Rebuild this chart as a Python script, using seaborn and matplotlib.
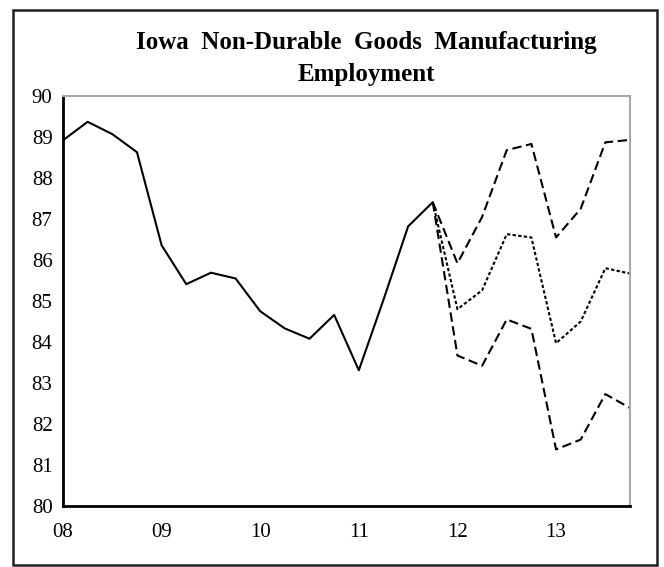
import numpy as np
import pandas as pd
import matplotlib
matplotlib.use('Agg')
import matplotlib.pyplot as plt
import matplotlib.ticker as mticker
import seaborn as sns

# quarterly index, 2008Q1 .. 2011Q4 (history)
hist_x = [2008.0, 2008.25, 2008.5, 2008.75, 2009.0, 2009.25, 2009.5, 2009.75,
          2010.0, 2010.25, 2010.5, 2010.75, 2011.0, 2011.25, 2011.5, 2011.75]
hist_y = [88.92, 89.37, 89.07, 88.63, 86.36, 85.41, 85.69, 85.55,
          84.75, 84.33, 84.08, 84.66, 83.31, 85.03, 86.82, 87.41]

# forecast, starting from the last actual quarter
fc_x = [2011.75, 2012.0, 2012.25, 2012.5, 2012.75, 2013.0, 2013.25, 2013.5, 2013.75]
fc_high = [87.41, 85.92, 87.05, 88.68, 88.83, 86.55, 87.25, 88.87, 88.93]
fc_mid = [87.41, 84.80, 85.26, 86.63, 86.55, 83.97, 84.50, 85.80, 85.67]
fc_low = [87.41, 83.67, 83.42, 84.55, 84.32, 81.38, 81.62, 82.73, 82.39]

title = 'Iowa  Non-Durable  Goods  Manufacturing\nEmployment'

df = pd.concat([
    pd.DataFrame({'quarter': hist_x, 'jobs': hist_y, 'series': 'actual'}),
    pd.DataFrame({'quarter': fc_x, 'jobs': fc_high, 'series': 'high'}),
    pd.DataFrame({'quarter': fc_x, 'jobs': fc_mid, 'series': 'mid'}),
    pd.DataFrame({'quarter': fc_x, 'jobs': fc_low, 'series': 'low'}),
])

sns.set_style('white')
plt.rcParams['font.family'] = ['Liberation Serif', 'DejaVu Serif']

fig = plt.figure(figsize=(6.64, 5.67), dpi=100)
ax = fig.add_axes([63 / 664, 1 - 506 / 567, (630 - 63) / 664, (506 - 96) / 567])

sns.lineplot(data=df, x='quarter', y='jobs', style='series', color='black',
             dashes={'actual': '', 'high': (4.5, 2.2), 'mid': (1.6, 1.1), 'low': (4.5, 2.2)},
             sort=False, estimator=None, lw=1.5, legend=False, ax=ax)

ax.set_xlim(2008, 2013.75)
ax.set_ylim(80, 90)
ax.set_xlabel('')
ax.set_ylabel('')
ax.set_yticks(range(80, 91))
ax.xaxis.set_major_locator(mticker.MultipleLocator(0.5))
ax.xaxis.set_minor_locator(mticker.MultipleLocator(0.25))
ax.xaxis.set_major_formatter(mticker.FuncFormatter(
    lambda v, p: f'{int(v) % 100:02d}' if abs(v - round(v)) < 1e-6 else ''))
ax.tick_params(axis='both', which='major', direction='inout', length=11, width=1.5,
               color='black', labelsize=15, labelcolor='black')
ax.tick_params(axis='x', which='major', pad=7)
ax.tick_params(axis='y', which='major', pad=2)
ax.tick_params(axis='x', which='minor', direction='out', length=4, width=1.5, color='black')

for s in ['left', 'bottom']:
    ax.spines[s].set_color('black')
    ax.spines[s].set_linewidth(2)
for s in ['top', 'right']:
    ax.spines[s].set_color('#a8a8a8')
    ax.spines[s].set_linewidth(1.5)
ax.grid(False)

fig.text(366 / 664, 1 - 31 / 567, title, ha='center', va='top', fontsize=18,
         fontweight='bold', linespacing=1.5, color='black')

border = plt.Rectangle((13 / 664, 1 - 565 / 567), (657 - 13) / 664, (565 - 10) / 567,
                       transform=fig.transFigure, fill=False, edgecolor='#202020', lw=1.8)
fig.patches.append(border)

fig.savefig('out.png', dpi=100)
